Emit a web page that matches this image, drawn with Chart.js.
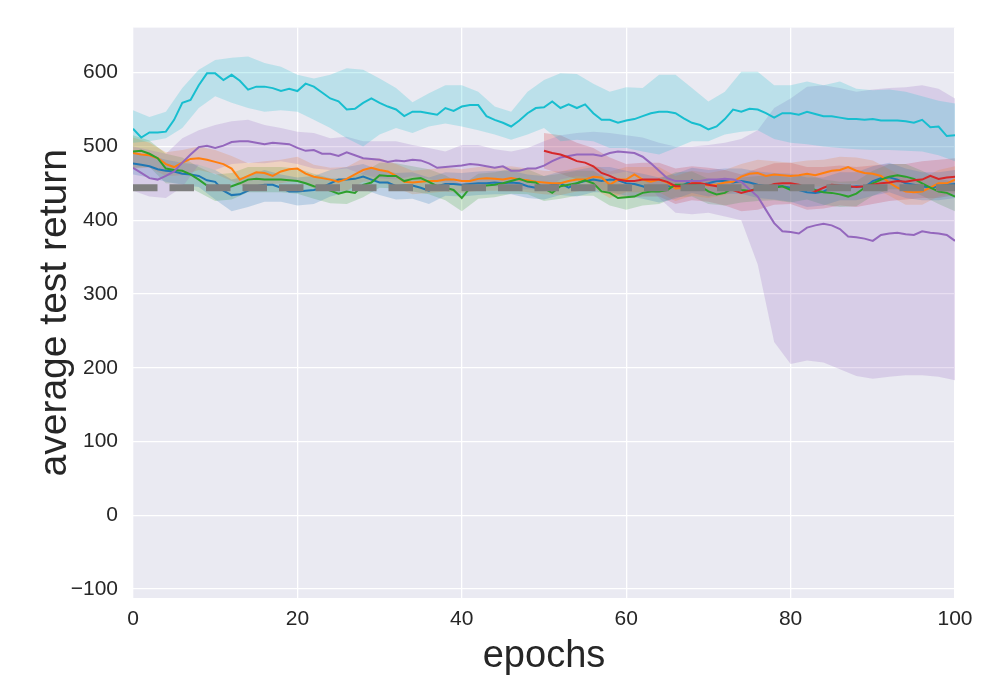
<!DOCTYPE html>
<html><head><meta charset="utf-8">
<script src="https://cdn.jsdelivr.net/npm/chart.js@4.4.1/dist/chart.umd.min.js"></script>
<style>html,body{margin:0;padding:0;background:#fff;}canvas{display:block;}</style>
</head><body>
<canvas id="c" width="1000" height="700"></canvas>
<script>
// ---------- data ----------
const epochs = Array.from({length: 101}, (_, i) => i);
const redEpochs = epochs.slice(50);
const bandEpochs = [0,2,4,6,8,10,12,14,16,18,20,22,24,26,28,30,32,34,36,38,40,42,44,46,48,50,52,54,56,58,60,62,64,66,68,70,72,74,76,78,80,82,84,86,88,90,92,94,96,98,100];
const redBandEpochs = [50,52,54,56,58,60,62,64,66,68,70,72,74,76,78,80,82,84,86,88,90,92,94,96,98,100];
const xTicks = [0,20,40,60,80,100];
const yTicks = [-100,0,100,200,300,400,500,600];
const baselineValue = 444;

const cyanMean = [524,512,519,519,520,536,559,563,583,599,599,590,597,589,577,581,581,579,575,578,575,585,581,573,565,561,550,551,559,565,559,554,550,541,547,547,545,543,552,548,554,556,556,541,536,532,527,535,545,552,553,561,552,557,552,557,545,536,536,532,535,537,541,545,547,547,545,538,532,529,523,527,537,550,547,551,550,545,539,545,545,543,547,544,541,541,539,537,537,536,537,535,535,535,534,532,536,526,527,514,515];
const purpleMean = [471,464,457,455,460,466,478,489,499,501,498,501,506,507,507,505,503,505,504,503,498,494,495,490,490,487,492,488,484,483,482,479,481,480,482,481,477,471,472,473,474,476,475,473,471,473,467,467,470,470,474,480,485,487,489,489,489,487,491,493,492,491,486,477,467,457,453,453,453,453,455,455,456,455,452,442,432,414,396,385,384,382,390,393,395,393,388,378,377,375,372,380,382,383,381,380,385,383,382,380,372];
const blueMean = [477,475,473,469,467,466,463,462,460,454,452,440,434,435,440,446,448,448,444,439,439,440,441,444,450,455,455,456,459,455,451,451,446,447,447,444,440,446,449,449,448,449,450,450,451,450,451,450,446,444,444,448,450,444,450,453,455,453,455,454,450,449,446,442,441,446,446,448,454,448,450,453,453,451,453,451,448,446,446,446,444,441,438,437,439,444,446,444,446,445,453,457,458,455,450,448,446,444,446,448,449];
const orangeMean = [491,489,488,484,476,472,478,483,484,482,479,476,470,455,460,465,464,460,466,469,470,463,459,457,455,452,456,462,468,471,468,466,460,452,451,452,453,453,455,455,453,453,456,457,456,455,457,455,454,452,451,450,450,453,455,455,459,458,448,455,455,462,455,452,455,451,443,444,450,450,447,448,451,452,459,463,464,460,462,461,460,461,463,461,464,467,468,472,467,464,463,460,451,444,439,438,439,444,450,450,455];
const greenMean = [493,494,490,484,470,468,467,462,455,447,444,443,446,450,455,456,455,455,455,454,453,450,446,444,440,436,439,437,448,451,461,460,460,453,456,457,452,446,444,441,430,444,446,447,448,450,453,456,452,451,443,437,446,448,450,454,450,439,437,430,431,432,437,439,439,441,448,448,449,446,439,435,437,444,441,440,443,441,444,446,441,444,445,441,438,437,435,432,436,444,450,455,459,461,459,456,450,444,439,437,432];
const redMean = [494,491,489,485,480,478,473,464,460,455,453,453,455,455,455,452,446,446,450,450,448,446,444,441,437,440,442,445,449,450,450,448,443,439,444,448,447,446,445,446,448,450,451,453,452,454,455,460,456,458,459];

const cyanUpper = [549,540,547,579,604,617,620,622,613,608,597,592,597,606,604,592,579,560,572,583,583,574,554,547,574,590,599,598,585,574,580,579,597,597,579,561,574,601,601,583,583,588,583,588,578,576,577,574,568,562,558];
const cyanLower = [505,507,511,525,552,568,559,552,547,549,547,536,525,511,500,516,525,518,527,531,527,522,516,509,516,525,507,509,507,498,498,493,489,498,507,507,516,520,522,510,505,503,500,498,496,495,495,494,493,488,480];
const purpleUpper = [500,495,490,511,522,529,534,536,529,525,520,518,511,513,507,507,507,502,498,493,502,502,496,493,498,507,515,518,520,518,515,512,505,500,500,502,505,510,522,552,565,581,583,579,574,577,579,580,583,578,565];
const purpleLower = [440,432,430,445,475,468,476,478,477,480,476,470,468,470,462,457,455,460,456,450,446,448,446,442,442,441,455,460,458,462,466,458,430,410,408,410,405,400,340,235,205,210,207,198,189,185,188,190,190,188,183];
const blueUpper = [492,488,482,478,475,468,455,460,468,462,458,460,468,472,476,468,464,465,458,465,464,466,467,467,462,460,466,468,472,472,467,463,458,463,471,468,470,470,466,464,463,458,458,465,465,473,478,470,465,465,468];
const blueLower = [462,458,452,448,445,428,412,418,425,425,420,422,432,438,442,434,428,429,422,433,432,434,435,435,430,428,434,432,438,438,433,429,424,429,437,432,436,436,430,428,425,418,420,427,427,433,438,430,427,427,430];
const orangeUpper = [512,505,492,495,500,495,487,477,480,482,486,475,471,472,484,484,476,467,469,471,469,472,472,473,470,467,466,471,475,466,472,472,472,460,467,464,468,476,482,480,478,481,482,486,485,481,469,457,457,468,473];
const orangeLower = [470,471,460,461,468,463,453,443,448,450,454,443,439,440,452,452,444,435,437,439,437,440,440,441,438,435,434,439,443,430,438,438,438,426,433,430,434,442,446,444,442,445,446,450,449,445,433,421,421,432,437];
const greenUpper = [515,508,490,485,472,462,464,472,472,472,470,463,457,456,465,478,477,473,469,461,448,463,465,470,469,460,463,467,467,454,448,454,456,465,466,456,454,458,460,461,458,462,455,452,453,467,476,476,467,456,452];
const greenLower = [471,472,450,449,438,426,428,438,438,438,436,429,423,422,431,444,443,439,435,427,412,429,431,436,435,426,429,433,433,420,414,420,422,431,432,422,420,424,426,427,424,428,421,418,419,433,442,442,433,422,412];
const redUpper = [518,515,505,498,485,476,478,478,470,473,471,468,462,470,477,478,472,472,474,472,474,476,476,480,482,484];
const redLower = [470,463,455,448,435,430,432,432,422,427,425,420,412,414,421,422,414,416,420,418,422,426,428,430,430,434];

// ---------- helpers ----------
const pts = (xs, ys) => xs.map((x, i) => ({x: x, y: ys[i]}));
const FONT = '"Liberation Sans", Arial, "DejaVu Sans", sans-serif';
const TXT = '#262626';
const COL = {
  blue: '31,119,180', orange: '255,127,14', green: '44,160,44',
  red: '214,39,40', purple: '148,103,189', cyan: '23,190,207'
};
const lineDs = (xs, ys, c) => ({
  data: pts(xs, ys), borderColor: 'rgb(' + c + ')', borderWidth: 2,
  pointRadius: 0, fill: false, tension: 0
});
const bandPair = (xs, up, lo, c) => [
  {data: pts(xs, up), borderColor: 'transparent', borderWidth: 0, pointRadius: 0,
   fill: '+1', backgroundColor: 'rgba(' + c + ',0.22)', tension: 0},
  {data: pts(xs, lo), borderColor: 'transparent', borderWidth: 0, pointRadius: 0,
   fill: false, tension: 0}
];

const bgPlugin = {
  id: 'bg',
  beforeDraw(chart) {
    const {ctx, chartArea: a} = chart;
    ctx.save();
    ctx.fillStyle = '#ffffff';
    ctx.fillRect(0, 0, chart.width, chart.height);
    ctx.fillStyle = '#EAEAF2';
    ctx.fillRect(a.left, a.top, a.right - a.left, a.bottom - a.top);
    ctx.restore();
  }
};

const datasets = [
  {data: pts([xTicks[0], xTicks[xTicks.length - 1]], [baselineValue, baselineValue]),
   borderColor: '#7f7f7f', borderWidth: 6.8, borderDash: [24.5, 12], borderCapStyle: 'butt',
   pointRadius: 0, fill: false},
  lineDs(redEpochs, redMean, COL.red),
  lineDs(epochs, purpleMean, COL.purple),
  lineDs(epochs, greenMean, COL.green),
  lineDs(epochs, orangeMean, COL.orange),
  lineDs(epochs, blueMean, COL.blue),
  lineDs(epochs, cyanMean, COL.cyan),
  ...bandPair(bandEpochs, cyanUpper, cyanLower, COL.cyan),
  ...bandPair(bandEpochs, purpleUpper, purpleLower, COL.purple),
  ...bandPair(bandEpochs, blueUpper, blueLower, COL.blue),
  ...bandPair(bandEpochs, orangeUpper, orangeLower, COL.orange),
  ...bandPair(bandEpochs, greenUpper, greenLower, COL.green),
  ...bandPair(redBandEpochs, redUpper, redLower, COL.red)
];

new Chart(document.getElementById('c'), {
  type: 'line',
  data: {datasets: datasets},
  plugins: [bgPlugin],
  options: {
    responsive: false,
    animation: false,
    devicePixelRatio: 1,
    layout: {padding: {top: 26, right: 45, left: 0, bottom: 0}},
    plugins: {legend: {display: false}, tooltip: {enabled: false}},
    scales: {
      x: {
        type: 'linear', min: 0, max: 100,
        afterBuildTicks: s => { s.ticks = xTicks.map(v => ({value: v})); },
        afterFit: s => { s.height = 102; },
        grid: {color: '#ffffff', lineWidth: 1.3, drawTicks: false},
        border: {display: false},
        ticks: {color: TXT, font: {family: FONT, size: 21}, padding: 9, maxRotation: 0},
        title: {display: true, text: 'epochs', color: TXT,
                font: {family: FONT, size: 38}, padding: {top: 0, bottom: 21}}
      },
      y: {
        type: 'linear', min: -112, max: 661,
        afterBuildTicks: s => { s.ticks = yTicks.map(v => ({value: v})); },
        afterFit: s => { s.width = 133; },
        grid: {color: '#ffffff', lineWidth: 1.3, drawTicks: false},
        border: {display: false},
        ticks: {color: TXT, font: {family: FONT, size: 21}, padding: 15,
                callback: v => v < 0 ? '\u2212' + Math.abs(v) : String(v)},
        title: {display: true, text: 'average test return', color: TXT,
                font: {family: FONT, size: 39}, padding: {top: 32, bottom: 0}}
      }
    }
  }
});
</script>
</body></html>
